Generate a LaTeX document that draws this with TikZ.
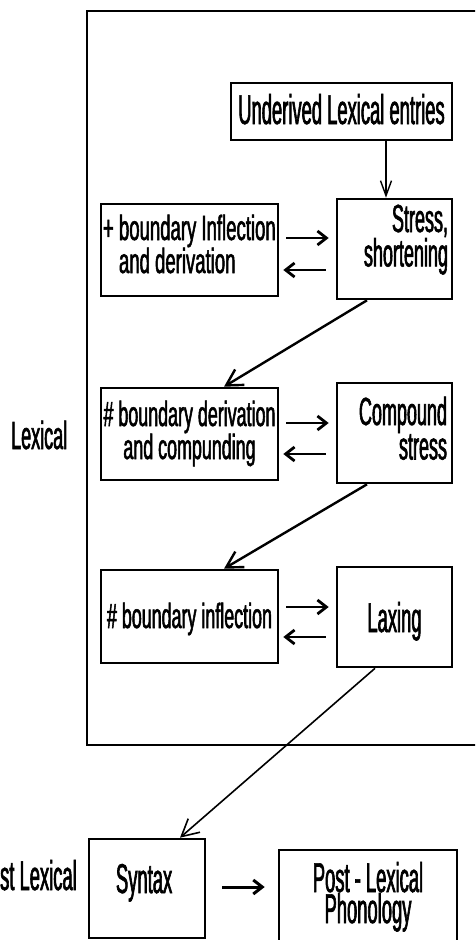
\documentclass[tikz,border=0pt]{standalone}
\usepackage{fontspec}
\setmainfont{Liberation Sans}
% condensed cuts of the same face, one per text size
\newfontfamily\fsmall[FakeStretch=0.511,FakeBold=1.5]{Liberation Sans}
\newfontfamily\fwide[FakeStretch=0.53,FakeBold=1.5]{Liberation Sans}
\newfontfamily\fmid[FakeStretch=0.459,FakeBold=1.5]{Liberation Sans}
\newfontfamily\flarge[FakeStretch=0.442,FakeBold=1.5]{Liberation Sans}
\usetikzlibrary{arrows.meta,calc}
% line pitch inside a boxed paragraph
\newcommand\lsk[1]{\setlength{\baselineskip}{#1pt}\setlength{\lineskiplimit}{-100pt}}

\tikzset{
  blk/.style={draw, line width=2.6pt, inner sep=0pt},
  fsm/.style={font={\fsmall\fontsize{35}{33}\selectfont}},
  fwd/.style={font={\fwide\fontsize{35}{33}\selectfont}},
  fmd/.style={font={\fmid\fontsize{39.2}{33}\selectfont}},
  flg/.style={font={\flarge\fontsize{41.6}{31}\selectfont}},
  harr/.style={line width=2.8pt, -{Straight Barb[length=9pt,width=14pt]}},
  varr/.style={line width=1.4pt, -{Straight Barb[length=15pt,width=11pt]}},
  darr/.style={line width=2.4pt, -{Straight Barb[length=16pt,width=18pt]}},
  tarr/.style={line width=1.6pt, -{Straight Barb[length=17pt,width=18pt]}},
}

\begin{document}
\begin{tikzpicture}[x=1pt, y=-1pt]
\clip (0,0) rectangle (475,940);
\useasboundingbox (0,0) rectangle (475,940);

% lexical frame (its right side runs off the page)
\draw[line width=2.7pt] (500,11) -- (87,11) -- (87,745) -- (500,745);

% side labels
\node[fmd, inner sep=0pt, anchor=base west] (lexlbl) at (11,449) {Lexical};
\node[flg, inner sep=0pt, anchor=base east] (postlbl) at (77,890) {Post Lexical};

% boxes
\node[blk, flg, minimum width=221pt, minimum height=57pt,
      text height=28pt, text depth=3pt] (under) at (341.5,111.5)
      {Underived Lexical entries};
\node[blk, fmd, minimum width=115pt, minimum height=100pt,
      text width=107pt, align=flush right, text height=27pt, text depth=61pt]
      (stress) at (394.5,249) {\lsk{36}Stress,\\shortening};
\node[blk, fwd, minimum width=177pt, minimum height=92pt,
      text width=173pt, align=flush left, text height=24pt, text depth=44pt]
      (plus) at (189.5,250) {\lsk{35}\mbox{+ boundary Inflection}\\\hspace*{16pt}and derivation};
\node[blk, fsm, minimum width=177pt, minimum height=92pt,
      text width=177pt, align=flush center, text height=24pt, text depth=40pt]
      (hder) at (189.5,434) {\lsk{31}\mbox{\# boundary derivation}\\and compunding};
\node[blk, fmd, minimum width=115pt, minimum height=100pt,
      text width=105pt, align=flush right, text height=27pt, text depth=43pt]
      (comp) at (394.5,433) {\lsk{30}Compound\\stress};
\node[blk, fsm, minimum width=177pt, minimum height=93pt,
      text height=23pt, text depth=0pt] (hinf) at (189.5,616.5)
      {\# boundary inflection};
\node[blk, flg, minimum width=115pt, minimum height=100pt,
      text height=30pt, text depth=0pt] (lax) at (394.5,617) {Laxing};
\node[blk, flg, minimum width=116pt, minimum height=99pt,
      text width=110pt, align=flush left, text height=29pt, text depth=20pt]
      (syntax) at (147,888.5) {\hspace*{24pt}Syntax};
\node[blk, flg, minimum width=178pt, minimum height=120pt,
      text width=178pt, align=flush center, text height=29pt, text depth=65pt]
      (post) at (368,910) {\lsk{31}Post - Lexical\\Phonology};

% entry arrow
\draw[varr] ($(under.south)+(44.5,0)$) -- ($(stress.north -| under.south)+(44.5,0)$);

% paired arrows between the columns
\draw[harr] ($(plus.east)+(7,-12)$) -- ($(stress.west |- plus.east)+(-7,-12)$);
\draw[harr] ($(stress.west |- plus.east)+(-10,20)$) -- ($(plus.east)+(4,20)$);
\draw[harr] ($(hder.east)+(7,-11)$) -- ($(comp.west |- hder.east)+(-7,-11)$);
\draw[harr] ($(comp.west |- hder.east)+(-10,20)$) -- ($(hder.east)+(4,20)$);
\draw[harr] ($(hinf.east)+(7,-9.5)$) -- ($(lax.west |- hinf.east)+(-7,-9.5)$);
\draw[harr] ($(lax.west |- hinf.east)+(-10,20.5)$) -- ($(hinf.east)+(4,20.5)$);

% level to level
\draw[darr] ($(stress.south)+(-27.5,0)$) -- ($(hder.north)+(34.5,0)$);
\draw[darr] ($(comp.south)+(-27.5,0)$) -- ($(hinf.north)+(34.5,0)$);
\draw[tarr] ($(lax.south)+(-19.5,0)$) -- ($(syntax.north)+(33,0)$);

% post-lexical
\draw[harr, line width=3pt] ($(syntax.east)+(16,-1.5)$) -- ($(post.west |- syntax.east)+(-13,-1.5)$);
\end{tikzpicture}
\end{document}
